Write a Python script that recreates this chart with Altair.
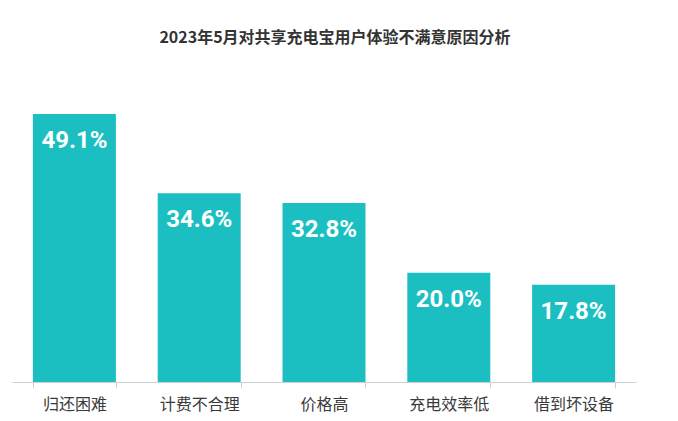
import altair as alt
import pandas as pd

categories = ["归还困难", "计费不合理", "价格高", "充电效率低", "借到坏设备"]
values = [49.1, 34.6, 32.8, 20.0, 17.8]
labels = ["49.1%", "34.6%", "32.8%", "20.0%", "17.8%"]

df = pd.DataFrame({"cat": categories, "val": values, "label": labels})

color = "#1BBFC1"

base = alt.Chart(df).encode(
    x=alt.X("cat:N", sort=categories, title=None,
            scale=alt.Scale(paddingInner=0.335, paddingOuter=0.1675),
            axis=alt.Axis(labelAngle=0, labelFont="Noto Sans CJK SC", labelFontSize=16,
                          labelColor="#3a3a3a", labelPadding=8, domainColor="#d0d0d0",
                          tickColor="#d0d0d0", tickSize=6, tickBand="extent",
                          domainWidth=1)),
    y=alt.Y("val:Q", title=None, scale=alt.Scale(domain=[0, 57.16], nice=False),
            axis=None),
)

bars = base.mark_bar(color=color)
text = base.mark_text(baseline="middle", dy=27, color="white", fontSize=24, fontWeight="bold",
                      font="Roboto").encode(text="label:N")

chart = (bars + text).properties(
    width=624, height=312,
    title=alt.TitleParams("2023年5月对共享充电宝用户体验不满意原因分析", font="Noto Sans CJK SC",
                          fontSize=16, fontWeight="bold", color="#333333", anchor="middle",
                          offset=24, dx=11),
    padding={"left": 4, "top": 22, "right": 5, "bottom": 5},
).configure_view(stroke=None)

chart.save("out.html", embed_options={"renderer": "svg", "actions": False})
